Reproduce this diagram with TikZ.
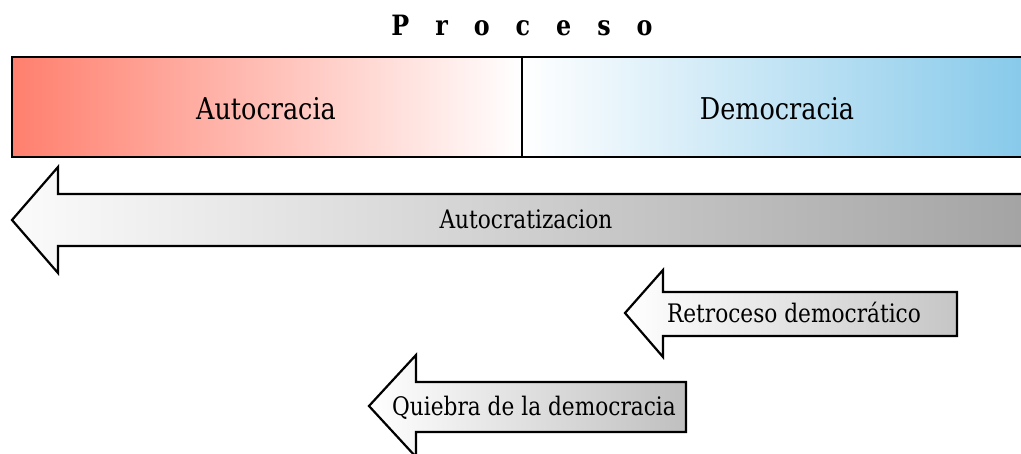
\documentclass[tikz,border=0pt]{standalone}
\usepackage{fontspec}
\setmainfont{DejaVu Serif}[FakeStretch=0.85]

\definecolor{salmon}{RGB}{255,127,110}
\definecolor{skyblue}{RGB}{134,201,234}

\tikzset{
  barlabel/.style={inner sep=0.75pt, anchor=base, font=\fontsize{30}{34}\selectfont},
  arrowlabel/.style={inner sep=0.75pt, anchor=base, font=\fontsize{25.5}{30}\selectfont},
  arrowline/.style={draw=black, line width=2.2pt, line join=miter},
}

\begin{document}
\begin{tikzpicture}[x=1pt,y=1pt,yscale=-1,xscale=1]
		% Set diagram to the size of the reference
		\useasboundingbox (0,0) rectangle (1021,453);

		% Title with spaced letters
		\node[anchor=base, inner sep=0.75pt, font=\bfseries\fontsize{28}{32}\selectfont] (titulo) at (522,35) {\spaceskip=26pt P r o c e s o};

		% The two halves of the bar, shaded towards the middle
		\path[left color=salmon, right color=white] (12,57) rectangle (522,157);
		\path[left color=white, right color=skyblue] (522,57) rectangle (1030,157);
		\draw[line width=2.2pt] (1030,57) -- (12,57) -- (12,157) -- (1030,157);
		\draw[line width=1.5pt] (522,57) -- (522,157);

		% The words "Autocracia, Democracia" in the bar
		\node[barlabel] (autocracia) at (266,119) {Autocracia};
		\node[barlabel] (democracia) at (777,119) {Democracia};

		% The long arrow pointing left
		\draw[arrowline, left color=gray!3, right color=gray!72] (12,220) -- (58,167) -- (58,194) -- (1030,194) -- (1030,246) -- (58,246) -- (58,273) -- cycle;
		\node[arrowlabel] (autocratizacion) at (526,228) {Autocratizacion};

		% The short arrow on the right
		\draw[arrowline, left color=white, right color=gray!45] (625,313) -- (663,270) -- (663,292) -- (957,292) -- (957,336) -- (663,336) -- (663,357) -- cycle;
		\node[arrowlabel] (retroceso) at (794,322) {Retroceso democrático};

		% The short arrow at the bottom
		\draw[arrowline, left color=white, right color=gray!50] (369,406) -- (416,355) -- (416,382) -- (686,382) -- (686,432) -- (416,432) -- (416,457) -- cycle;
		\node[arrowlabel] (quiebra) at (534,415) {Quiebra de la democracia};
	\end{tikzpicture}
\end{document}
